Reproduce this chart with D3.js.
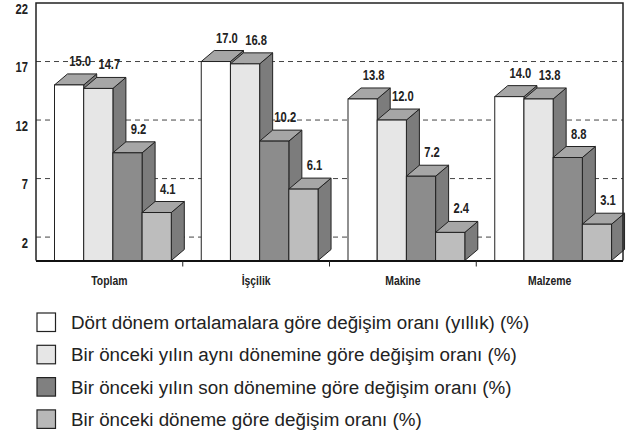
<!doctype html>
<html lang="tr">
<head>
  <meta charset="utf-8">
  <style>
    body { margin: 0; background: #fff; }
    .num { font-family: "Liberation Sans", Arial, sans-serif; font-weight: bold; fill: #222; }
    .leg { font-family: "Liberation Sans", Arial, sans-serif; fill: #222; }
  </style>
</head>
<body>
  <script src="https://cdn.jsdelivr.net/npm/d3@7"></script>
  <script>
    // data
    var categories = ["Toplam", "İşçilik", "Makine", "Malzeme"];
    var seriesNames = [
      "Dört dönem ortalamalara göre değişim oranı (yıllık) (%)",
      "Bir önceki yılın aynı dönemine göre değişim oranı (%)",
      "Bir önceki yılın son dönemine göre değişim oranı (%)",
      "Bir önceki döneme göre değişim oranı (%)"
    ];
    var annual   = [15.0, 17.0, 13.8, 14.0];
    var sameQ    = [14.7, 16.8, 12.0, 13.8];
    var lastQ    = [9.2, 10.2, 7.2, 8.8];
    var prevQ    = [4.1, 6.1, 2.4, 3.1];
    var yTicks   = [2, 7, 12, 17, 22];

    var series = [annual, sameQ, lastQ, prevQ];
    var fills = ["#ffffff", "#e6e6e6", "#8c8c8c", "#bdbdbd"];
    var legendFills = ["#ffffff", "#e6e6e6", "#808080", "#b8b8b8"];
    var topFill = "#a6a6a6", sideFill = "#7c7c7c";

    var width = 628, height = 434;
    var pLeft = 36, pRight = 623, pTop = 3, base = 260.5;
    var dx = 13, dy = 11;
    var squeeze = 0.8;  // condensed look for the chart labels

    var svg = d3.select("body").append("svg")
        .attr("width", width)
        .attr("height", height);

    var x = d3.scaleBand().domain(categories).range([pLeft, pRight]);
    var xs = d3.scaleBand().domain(d3.range(series.length))
        .range([18.5, 18.5 + 116.8]);
    var y = d3.scaleLinear().domain([0, 22]).range([base, pTop]);

    // dashed gridlines
    svg.append("g").selectAll("line")
        .data(yTicks.slice(0, -1))
        .enter().append("line")
        .attr("x1", pLeft).attr("x2", pRight)
        .attr("y1", d => y(d)).attr("y2", d => y(d))
        .attr("stroke", "#444")
        .attr("stroke-width", 1)
        .attr("stroke-dasharray", "5,4");

    // y labels hang just below their value
    svg.append("g").selectAll("text")
        .data(yTicks)
        .enter().append("text")
        .attr("class", "num")
        .attr("transform", d => "translate(28," + (y(d) + 10.5) + ") scale(" + squeeze + ",1)")
        .attr("text-anchor", "end")
        .style("font-size", "14px")
        .text(d => d);

    // bars, drawn left to right so each front face hides the previous side
    var bars = [];
    categories.forEach(function(c, ci) {
      series.forEach(function(s, si) {
        bars.push({cat: c, si: si, v: s[ci]});
      });
    });

    var g = svg.append("g").selectAll("g")
        .data(bars)
        .enter().append("g");

    g.each(function(d) {
      var x0 = x(d.cat) + xs(d.si), x1 = x0 + xs.bandwidth();
      var yt = y(d.v);
      var el = d3.select(this);
      el.append("path")
        .attr("d", "M" + x1 + "," + yt + "L" + (x1 + dx) + "," + (yt - dy) +
                   "L" + (x1 + dx) + "," + (base - dy) + "L" + x1 + "," + base + "Z")
        .attr("fill", sideFill).attr("stroke", "#222").attr("stroke-width", 1)
        .attr("stroke-linejoin", "round");
      el.append("path")
        .attr("d", "M" + x0 + "," + yt + "L" + (x0 + dx) + "," + (yt - dy) +
                   "L" + (x1 + dx) + "," + (yt - dy) + "L" + x1 + "," + yt + "Z")
        .attr("fill", topFill).attr("stroke", "#222").attr("stroke-width", 1)
        .attr("stroke-linejoin", "round");
      el.append("rect")
        .attr("x", x0).attr("y", yt)
        .attr("width", xs.bandwidth()).attr("height", base - yt)
        .attr("fill", fills[d.si]).attr("stroke", "#222").attr("stroke-width", 1);
    });

    // value labels
    svg.append("g").selectAll("text")
        .data(bars)
        .enter().append("text")
        .attr("class", "num")
        .attr("transform", d => "translate(" + (x(d.cat) + xs(d.si) + xs.bandwidth() / 2 + 11) +
              "," + (y(d.v) - dy - 8) + ") scale(" + squeeze + ",1)")
        .attr("text-anchor", "middle")
        .style("font-size", "14px")
        .text(d => d.v.toFixed(1));

    // frame
    svg.append("path")
        .attr("d", "M" + pLeft + "," + base + "V" + pTop + "H" + pRight + "V" + base)
        .attr("fill", "none").attr("stroke", "#222").attr("stroke-width", 1.5);
    svg.append("line")
        .attr("x1", pLeft).attr("x2", pRight)
        .attr("y1", base + 0.5).attr("y2", base + 0.5)
        .attr("stroke", "#111").attr("stroke-width", 2);

    // category ticks and labels
    svg.append("g").selectAll("line")
        .data(categories.slice(1))
        .enter().append("line")
        .attr("x1", d => x(d)).attr("x2", d => x(d))
        .attr("y1", base).attr("y2", base + 6)
        .attr("stroke", "#222").attr("stroke-width", 1);

    svg.append("g").selectAll("text")
        .data(categories)
        .enter().append("text")
        .attr("class", "num")
        .attr("transform", d => "translate(" + (x(d) + x.bandwidth() / 2) + ",285) scale(" + squeeze + ",1)")
        .attr("text-anchor", "middle")
        .style("font-size", "13px")
        .text(d => d);

    // legend
    var leg = svg.append("g").selectAll("g")
        .data(seriesNames)
        .enter().append("g")
        .attr("transform", (d, i) => "translate(37," + (313 + i * 32.3) + ")");
    leg.append("rect")
        .attr("width", 18.5).attr("height", 18.5)
        .attr("fill", (d, i) => legendFills[i])
        .attr("stroke", "#222").attr("stroke-width", 1.2);
    leg.append("text")
        .attr("class", "leg")
        .attr("x", 34)
        .attr("y", 16)
        .style("font-size", "18.8px")
        .text(d => d);
  </script>
</body>
</html>
